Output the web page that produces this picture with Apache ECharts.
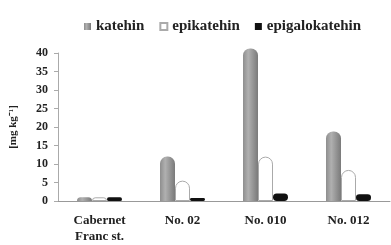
<!DOCTYPE html>
<html>
<head>
<meta charset="utf-8">
<script src="https://cdn.jsdelivr.net/npm/echarts@6/dist/echarts.min.js"></script>
<style>
  html, body { margin: 0; padding: 0; background: #fff; }
  #chart { width: 391px; height: 245px; }
</style>
</head>
<body>
<div id="chart"></div>
<script>
var categories = ['Cabernet\nFranc st.', 'No. 02', 'No. 010', 'No. 012']
var katehin = [1.0, 12.0, 41.2, 18.8]
var epikatehin = [1.0, 5.5, 12.0, 8.4]
var epigalokatehin = [1.0, 0.8, 2.0, 1.8]
var yTicks = [0, 5, 10, 15, 20, 25, 30, 35, 40]

var serif = 'Liberation Serif'

var grayFill = new echarts.graphic.LinearGradient(0, 0, 1, 0, [
  { offset: 0, color: '#8e8e8e' },
  { offset: 0.35, color: '#b0b0b0' },
  { offset: 1, color: '#7a7a7a' }
])

var chart = echarts.init(document.getElementById('chart'))
chart.setOption({
  animation: false,
  legend: {
    top: 14,
    left: 79,
    icon: 'rect',
    itemWidth: 7,
    itemHeight: 7,
    itemGap: 15,
    textStyle: { fontFamily: serif, fontWeight: 'bold', fontSize: 15, color: '#222' },
    data: ['katehin', 'epikatehin', 'epigalokatehin']
  },
  grid: { left: 53, right: 1, top: 53, bottom: 40 },
  xAxis: {
    type: 'category',
    data: categories,
    axisLine: { lineStyle: { color: '#999' } },
    axisTick: { show: false },
    axisLabel: {
      fontFamily: serif,
      fontWeight: 'bold',
      fontSize: 13,
      color: '#222',
      margin: 12,
      lineHeight: 16
    }
  },
  yAxis: {
    type: 'value',
    min: yTicks[0],
    max: yTicks[yTicks.length - 1],
    interval: 5,
    name: '[mg kg\u207B\u00B9]',
    nameLocation: 'middle',
    nameGap: 39,
    nameTextStyle: { fontFamily: serif, fontWeight: 'bold', fontSize: 11, color: '#222' },
    splitLine: { show: false },
    axisLine: { show: true, lineStyle: { color: '#aaa' } },
    axisTick: { show: true, length: 4, lineStyle: { color: '#aaa' } },
    axisLabel: { fontFamily: serif, fontWeight: 'bold', fontSize: 12, color: '#222', margin: 10 }
  },
  series: [
    {
      name: 'katehin',
      type: 'bar',
      data: katehin,
      clip: false,
      barWidth: 15,
      barGap: '0%',
      itemStyle: { color: grayFill, borderRadius: [7, 7, 0, 0] }
    },
    {
      name: 'epikatehin',
      type: 'bar',
      data: epikatehin,
      clip: false,
      barWidth: 15,
      itemStyle: { color: '#fff', borderColor: '#aaa', borderWidth: 1, borderRadius: [7, 7, 0, 0] }
    },
    {
      name: 'epigalokatehin',
      type: 'bar',
      data: epigalokatehin,
      clip: false,
      barWidth: 15,
      itemStyle: { color: '#111', borderRadius: 5 }
    }
  ]
})
</script>
</body>
</html>
